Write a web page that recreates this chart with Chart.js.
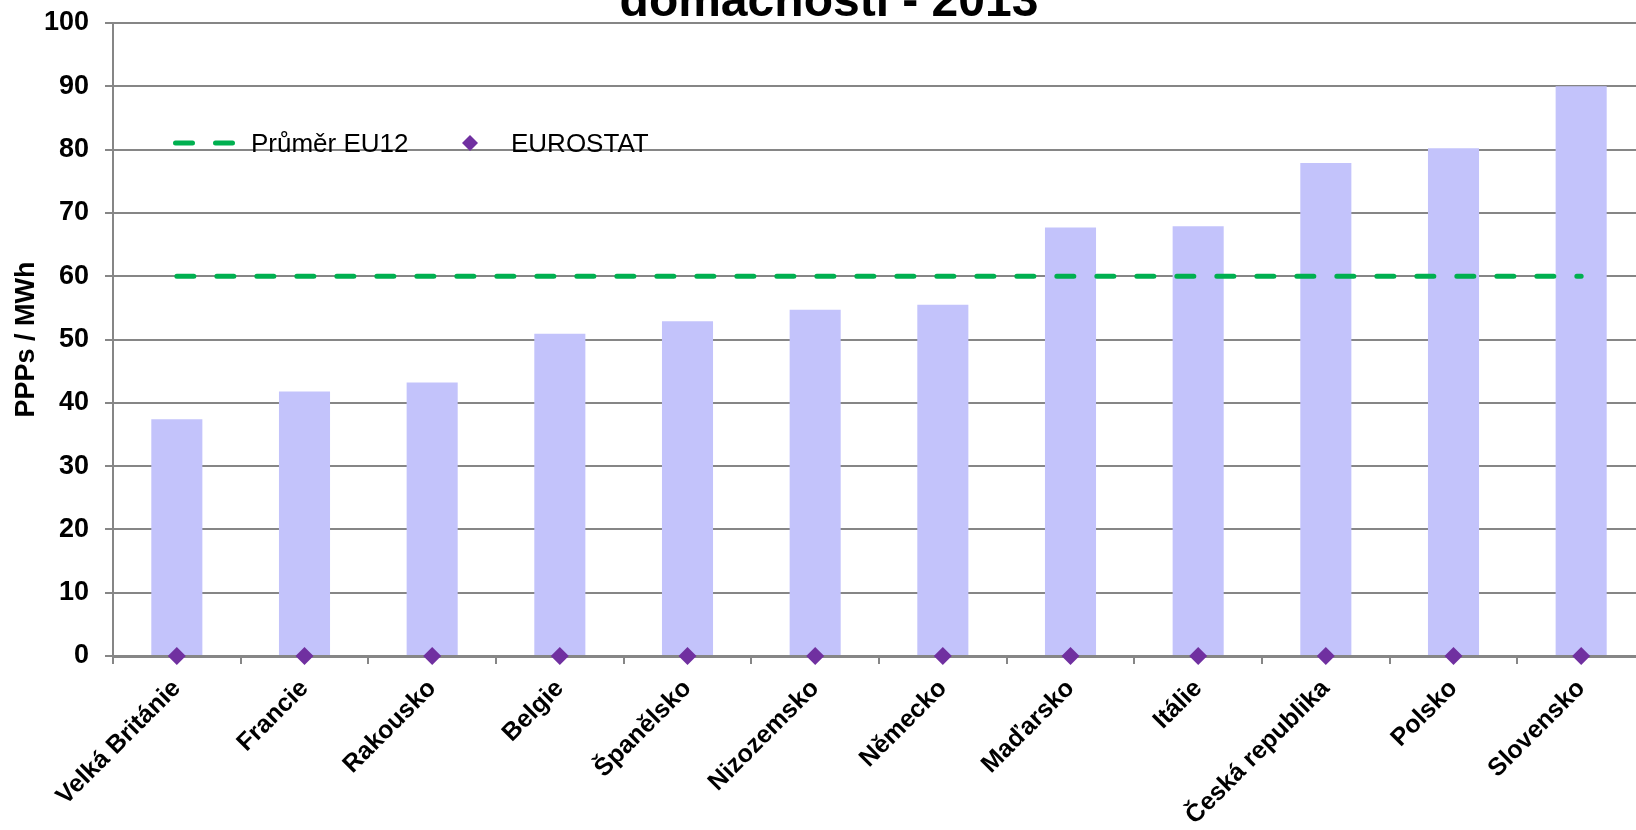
<!DOCTYPE html>
<html>
<head>
<meta charset="utf-8">
<script src="https://cdn.jsdelivr.net/npm/chart.js@4.4.1/dist/chart.umd.min.js"></script>
<style>
  html, body { margin: 0; padding: 0; background: #fff; overflow: hidden; }
  #wrap { position: relative; width: 1654px; height: 830px; }
  #graf { display: block; }
  #legenda { position: absolute; left: 0; top: 0; font-family: "Liberation Sans", Arial, sans-serif; font-size: 26px; color: #000; }
  #legenda .txt { position: absolute; line-height: 26px; white-space: nowrap; }
</style>
</head>
<body>
<div id="wrap">
  <canvas id="graf" width="1654" height="830"></canvas>
  <div id="legenda"></div>
</div>
<script>
// Data
const titulek = 'domácnosti - 2013';
const zeme = ['Velká Británie', 'Francie', 'Rakousko', 'Belgie', 'Španělsko', 'Nizozemsko',
  'Německo', 'Maďarsko', 'Itálie', 'Česká republika', 'Polsko', 'Slovensko'];
const ceny = [37.4, 41.8, 43.2, 50.9, 52.9, 54.7, 55.5, 67.7, 67.9, 77.9, 80.2, 90.0];
const prumerEU12 = [60, 60, 60, 60, 60, 60, 60, 60, 60, 60, 60, 60];
const eurostat = [0, 0, 0, 0, 0, 0, 0, 0, 0, 0, 0, 0];
const osaY = [0, 10, 20, 30, 40, 50, 60, 70, 80, 90, 100];

const sedaMrizka = '#868686';
const pismo = '"Liberation Sans", Arial, sans-serif';

// titulek je v originále nahoře oříznutý
const titulekPlugin = {
  id: 'titulek',
  afterDraw(chart) {
    const ctx = chart.ctx;
    ctx.save();
    ctx.font = 'bold 48px ' + pismo;
    ctx.fillStyle = '#000';
    ctx.textAlign = 'center';
    ctx.textBaseline = 'alphabetic';
    ctx.fillText(titulek, 829, 16);
    ctx.restore();
  }
};

const ctx = document.getElementById('graf').getContext('2d');
const graf = new Chart(ctx, {
  type: 'bar',
  data: {
    labels: zeme,
    datasets: [
      {
        type: 'line',
        label: 'Průměr EU12',
        data: prumerEU12,
        borderColor: '#00b050',
        borderWidth: 5,
        borderDash: [17, 23],
        borderCapStyle: 'round',
        pointRadius: 0,
        fill: false,
        order: 1
      },
      {
        type: 'line',
        label: 'EUROSTAT',
        data: eurostat,
        showLine: false,
        pointStyle: 'rectRot',
        pointRadius: 9,
        pointBorderWidth: 0,
        pointBackgroundColor: '#7030a0',
        pointBorderColor: '#7030a0',
        clip: false,
        order: 0
      },
      {
        label: 'ceny',
        data: ceny,
        backgroundColor: '#c3c3fb',
        categoryPercentage: 1,
        barPercentage: 0.4,
        order: 3
      }
    ]
  },
  options: {
    responsive: false,
    animation: false,
    layout: { padding: { top: 23, right: 0, bottom: 0, left: 0 } },
    plugins: {
      legend: { display: false },
      tooltip: { enabled: false }
    },
    scales: {
      x: {
        grid: { drawOnChartArea: false, drawTicks: true, tickLength: 8, color: sedaMrizka, lineWidth: 2 },
        border: { color: sedaMrizka, width: 3 },
        ticks: {
          color: '#000',
          maxRotation: 45,
          minRotation: 45,
          padding: 10,
          font: { family: pismo, size: 25, weight: 'bold' }
        },
        afterFit(scale) {
          scale.height = 174;
          scale.paddingLeft = 0;
          scale.paddingRight = 0;
        }
      },
      y: {
        min: 0,
        max: 100,
        afterBuildTicks(scale) { scale.ticks = osaY.map(v => ({ value: v })); },
        grid: { color: sedaMrizka, lineWidth: 2, tickLength: 8 },
        border: { color: sedaMrizka, width: 2 },
        ticks: {
          color: '#000',
          padding: 16,
          font: { family: pismo, size: 27, weight: 'bold' }
        },
        title: {
          display: true,
          text: 'PPPs / MWh',
          color: '#000',
          padding: { top: 10, bottom: 0 },
          font: { family: pismo, size: 27, weight: 'bold' }
        },
        afterFit(scale) {
          scale.width = 113;
          scale.paddingTop = 0;
          scale.paddingBottom = 0;
        }
      }
    }
  },
  plugins: [titulekPlugin]
});

// legenda uvnitř grafu (HTML)
function vykresliLegendu(chart) {
  const ds = chart.data.datasets;
  const el = document.getElementById('legenda');
  const cara = ds[0];
  const bod = ds[1];
  el.innerHTML =
    '<svg style="position:absolute;left:170px;top:136px" width="70" height="14">' +
    '<line x1="5.5" y1="7" x2="66" y2="7" stroke="' + cara.borderColor + '" stroke-width="5" ' +
    'stroke-linecap="round" stroke-dasharray="17 23"/></svg>' +
    '<div class="txt" style="left:251px;top:130px">' + cara.label + '</div>' +
    '<svg style="position:absolute;left:461px;top:134px" width="18" height="18">' +
    '<polygon points="9,1 17,9 9,17 1,9" fill="' + bod.pointBackgroundColor + '"/></svg>' +
    '<div class="txt" style="left:511px;top:130px">' + bod.label + '</div>';
}
vykresliLegendu(graf);
</script>
</body>
</html>
